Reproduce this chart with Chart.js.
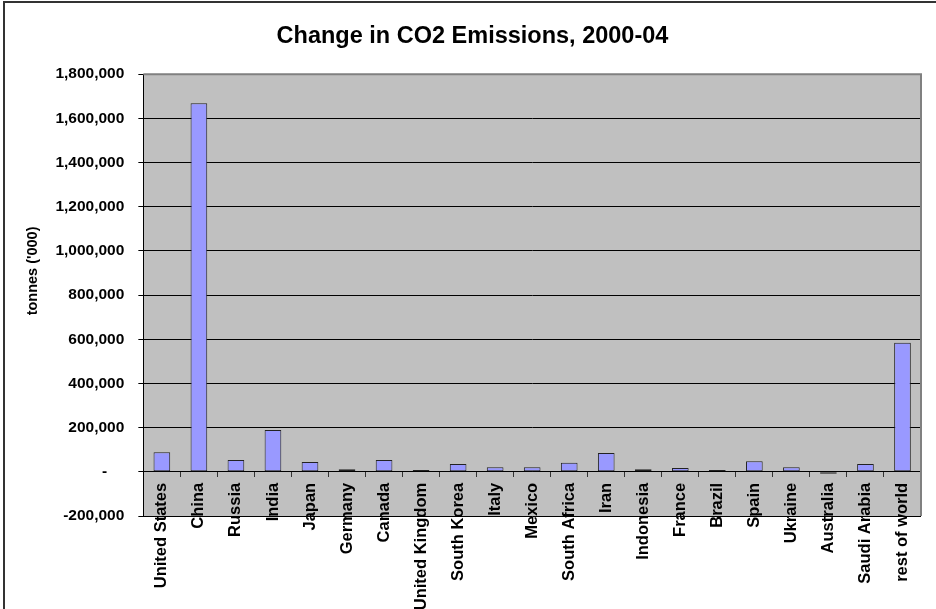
<!DOCTYPE html>
<html>
<head>
<meta charset="utf-8">
<script src="https://cdn.jsdelivr.net/npm/chart.js@4"></script>
<style>
  body { margin: 0; background: #ffffff; }
  #wrap { width: 936px; height: 609px; }
</style>
</head>
<body>
<div id="wrap"><canvas id="co2-canvas" width="936" height="609"></canvas></div>
<script>
  // data (tonnes '000)
  var countries = [
    "United States",
    "China",
    "Russia",
    "India",
    "Japan",
    "Germany",
    "Canada",
    "United Kingdom",
    "South Korea",
    "Italy",
    "Mexico",
    "South Africa",
    "Iran",
    "Indonesia",
    "France",
    "Brazil",
    "Spain",
    "Ukraine",
    "Australia",
    "Saudi Arabia",
    "rest of world",
  ];
  var emissionChange = [
    89000, 1668000, 53000, 189000, 44000, 12000, 53000, 8000, 35000, 21000,
    21000, 41000, 85000, 12000, 17000, 8000, 48000, 21000, -9000, 35000, 584000,
  ];
  var yMin = -200000;
  var yMax = 1800000;
  var yStep = 200000;

  var fontName = "'Liberation Sans', Arial, sans-serif";

  // grey plot area + outer frame, Excel style
  var excelFrame = {
    id: "excelFrame",
    beforeDraw: function (chart) {
      var ctx = chart.ctx;
      var a = chart.chartArea;
      ctx.save();
      ctx.fillStyle = "#ffffff";
      ctx.fillRect(0, 0, chart.width, chart.height);
      ctx.fillStyle = "#c0c0c0";
      ctx.fillRect(a.left, a.top, a.right - a.left, a.bottom - a.top);
      ctx.restore();
    },
    beforeDatasetsDraw: function (chart) {
      var ctx = chart.ctx;
      var a = chart.chartArea;
      ctx.save();
      ctx.strokeStyle = "#808080";
      ctx.lineWidth = 2;
      ctx.beginPath();
      ctx.moveTo(a.left, a.top);
      ctx.lineTo(a.right, a.top);
      ctx.lineTo(a.right, a.bottom);
      ctx.stroke();
      ctx.restore();
    },
    afterDraw: function (chart) {
      var ctx = chart.ctx;
      ctx.save();
      ctx.strokeStyle = "#333333";
      ctx.lineWidth = 2;
      ctx.strokeRect(4, 2, chart.width + 20, chart.height + 20);
      ctx.restore();
    },
  };

  new Chart(document.getElementById("co2-canvas"), {
    type: "bar",
    data: {
      labels: countries,
      datasets: [
        {
          label: "Change",
          data: emissionChange,
          backgroundColor: "#9999ff",
          borderColor: "#222222",
          borderWidth: 1,
          borderSkipped: false,
          categoryPercentage: 1,
          barPercentage: 0.45,
        },
      ],
    },
    options: {
      responsive: false,
      animation: false,
      events: [],
      layout: {
        padding: { top: 5, left: 24, right: 15, bottom: 93 },
      },
      plugins: {
        legend: { display: false },
        tooltip: { enabled: false },
        title: {
          display: true,
          text: "Change in CO2 Emissions, 2000-04",
          color: "#000000",
          font: { family: fontName, size: 23.5, weight: "bold" },
          padding: { top: 17, bottom: 24 },
        },
      },
      scales: {
        x: {
          position: { y: 0 },
          offset: true,
          afterFit: function (scale) {
            scale.height = 0;
          },
          grid: {
            offset: true,
            drawOnChartArea: false,
            drawTicks: true,
            tickLength: 5,
            tickColor: "#333333",
          },
          border: { display: true, color: "#000000", width: 1 },
          ticks: {
            autoSkip: false,
            minRotation: 90,
            maxRotation: 90,
            padding: 6,
            color: "#000000",
            font: { family: fontName, size: 16.5, weight: "bold" },
          },
        },
        y: {
          min: yMin,
          max: yMax,
          title: {
            display: true,
            // leading spaces push the label up, like the Excel original
            text: "            tonnes ('000)",
            color: "#000000",
            font: { family: fontName, size: 14.5, weight: "bold" },
            padding: { top: 0, bottom: 0 },
          },
          grid: {
            color: "#000000",
            tickColor: "#000000",
            tickLength: 5,
          },
          border: { display: true, color: "#000000", width: 1 },
          ticks: {
            stepSize: yStep,
            padding: 14,
            color: "#000000",
            font: { family: fontName, size: 15.5, weight: "bold" },
            callback: function (value) {
              if (value === 0) return "-    ";
              return value.toLocaleString("en-US");
            },
          },
        },
      },
    },
    plugins: [excelFrame],
  });
</script>
</body>
</html>
